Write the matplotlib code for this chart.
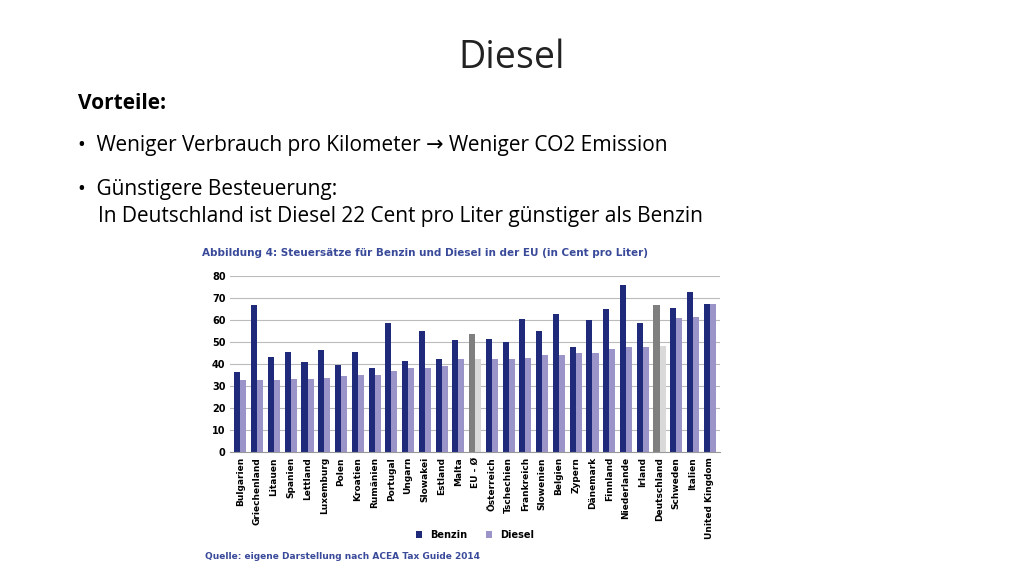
import matplotlib.pyplot as plt
import numpy as np

laender = ["Bulgarien", "Griechenland", "Litauen", "Spanien", "Lettland", "Luxemburg",
           "Polen", "Kroatien", "Rumänien", "Portugal", "Ungarn", "Slowakei", "Estland",
           "Malta", "EU - Ø", "Österreich", "Tschechien", "Frankreich", "Slowenien",
           "Belgien", "Zypern", "Dänemark", "Finnland", "Niederlande", "Irland",
           "Deutschland", "Schweden", "Italien", "United Kingdom"]
benzin = [36.3, 67, 43.4, 45.6, 41, 46.6, 39.6, 45.4, 38.3, 58.6, 41.6, 55.1, 42.3,
          50.9, 54, 51.5, 50, 60.7, 55, 62.8, 47.9, 60.2, 65, 76, 58.7, 67, 65.6, 72.8, 67.5]
diesel = [33, 33, 33, 33.2, 33.4, 33.9, 34.5, 35, 35.2, 36.9, 38.3, 38.5, 39.3,
          42.2, 42.3, 42.4, 42.6, 42.8, 44.3, 44.3, 45, 45, 47, 47.7, 47.9, 48.5, 61, 61.7, 67.5]
grau = ["EU - Ø", "Deutschland"]

fig = plt.figure(figsize=(10.24, 5.76), dpi=100)
fig.patch.set_facecolor("white")
fam = ["Open Sans", "DejaVu Sans"]

fig.text(0.5, 0.9, "Diesel", ha="center", va="center", fontsize=27, color="#222222",
         fontfamily=fam)
fig.text(0.076, 0.81, "Vorteile:", fontsize=15, fontweight="bold", fontfamily=fam)
fig.text(0.076, 0.738, "•  Weniger Verbrauch pro Kilometer → Weniger CO2 Emission",
         fontsize=15, fontfamily=fam)
fig.text(0.076, 0.662, "•  Günstigere Besteuerung:", fontsize=15, fontfamily=fam)
fig.text(0.096, 0.615, "In Deutschland ist Diesel 22 Cent pro Liter günstiger als Benzin",
         fontsize=15, fontfamily=fam)
fig.text(0.197, 0.555, "Abbildung 4: Steuersätze für Benzin und Diesel in der EU (in Cent pro Liter)",
         fontsize=7.5, fontweight="bold", color="#3a4a9a")
fig.text(0.2, 0.03, "Quelle: eigene Darstellung nach ACEA Tax Guide 2014",
         fontsize=6.5, fontweight="bold", color="#3a4a9a")

ax = fig.add_axes([0.225, 0.215, 0.478, 0.305])
x = np.arange(len(laender))
w = 0.36
cb = ["#7f7f7f" if l in grau else "#1f2a7a" for l in laender]
cd = ["#d9d9d9" if l in grau else "#9a94c8" for l in laender]
ax.bar(x - w / 2, benzin, w, color=cb, label="Benzin")
ax.bar(x + w / 2, diesel, w, color=cd, label="Diesel")
ax.set_ylim(0, 80)
ax.set_yticks(range(0, 81, 10))
ax.set_xlim(-0.6, len(laender) - 0.4)
ax.set_xticks(x)
ax.set_xticklabels(laender, rotation=90, fontsize=6.5, fontweight="bold")
ax.tick_params(axis="y", labelsize=7, length=0)
for lab in ax.get_yticklabels():
    lab.set_fontweight("bold")
ax.tick_params(axis="x", length=0)
ax.grid(axis="y", color="#bbbbbb", linewidth=0.8)
ax.set_axisbelow(True)
for s in ["top", "right", "left"]:
    ax.spines[s].set_visible(False)
ax.spines["bottom"].set_color("#999999")
ax.legend(loc="center", bbox_to_anchor=(0.5, -0.47), ncol=2, frameon=False,
          handlelength=0.6, prop={"weight": "bold", "size": 7})

fig.savefig("out.png", dpi=100)
